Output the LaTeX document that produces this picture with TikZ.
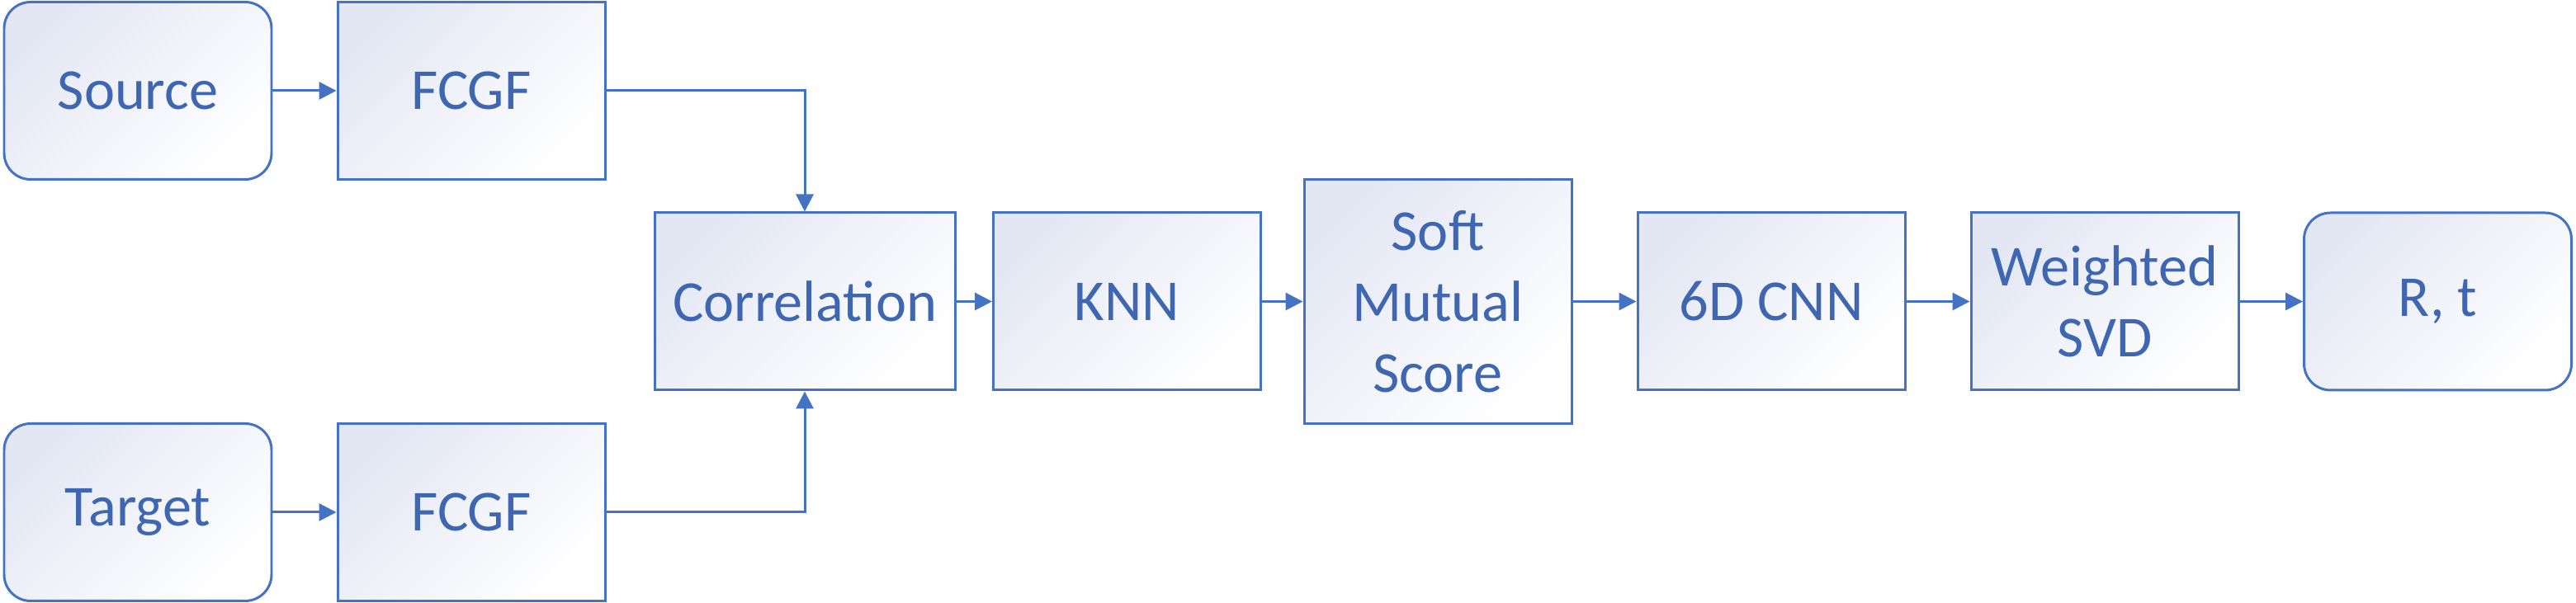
\documentclass[tikz,border=0pt]{standalone}
\usepackage{fontspec}
\setmainfont{Carlito}
\usetikzlibrary{arrows.meta}
\definecolor{lineblue}{HTML}{4472C4}
\definecolor{textblue}{HTML}{3F66B0}
\definecolor{boxtint}{HTML}{E3E7F4}
\tikzset{
  block/.style={draw=lineblue, line width=0.85pt, top color=boxtint, bottom color=white,
    shading angle=45, text=textblue, font=\fontsize{20}{24.5}\selectfont, align=center,
    minimum width=3.24cm, minimum height=2.15cm, inner sep=0pt},
  terminal/.style={block, rounded corners=0.32cm},
  flow/.style={draw=lineblue, line width=0.85pt, -{Triangle[length=0.21cm,width=0.21cm]}}
}

\begin{document}
\begin{tikzpicture}
    \useasboundingbox (0,0) rectangle (31.21,7.31);
    \node[terminal] (src) at (1.67,6.21) {Source};
    \node[block] (fa) at (5.71,6.21) {FCGF};
    \node[terminal] (tgt) at (1.67,1.10) {Target};
    \node[block] (fb) at (5.71,1.10) {FCGF};
    \node[block, minimum width=3.64cm] (corr) at (9.75,3.655) {Correlation};
    \node[block] (knn) at (13.655,3.655) {KNN};
    \node[block, minimum height=2.96cm] (sms) at (17.42,3.655) {Soft\\Mutual\\Score};
    \node[block] (cnn) at (21.46,3.655) {6D CNN};
    \node[block] (svd) at (25.50,3.655) {Weighted\\SVD};
    \node[terminal] (rt) at (29.535,3.655) {R, t};
    \draw[flow] (src) -- (fa);
    \draw[flow] (tgt) -- (fb);
    \draw[flow] (fa.east) -| (corr.north);
    \draw[flow] (fb.east) -| (corr.south);
    \foreach \a/\b in {corr/knn, knn/sms, sms/cnn, cnn/svd, svd/rt}
        \draw[flow] (\a) -- (\b);
\end{tikzpicture}
\end{document}
